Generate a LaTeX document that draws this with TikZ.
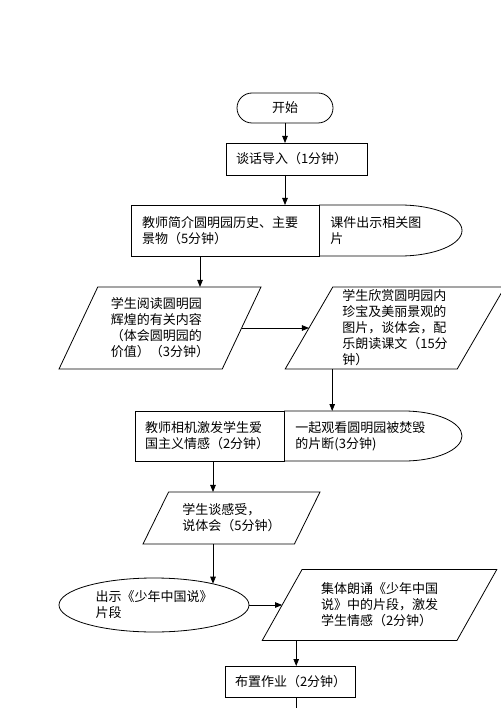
\documentclass[tikz,border=0pt]{standalone}
\usepackage{fontspec}
\setmainfont{Noto Sans CJK SC}
\usepackage{tikz}
\usetikzlibrary{positioning,arrows.meta,shapes.geometric}

\begin{document}
\begin{tikzpicture}[x=1pt,y=-1pt,line width=0.8pt,>={Triangle[length=7pt,width=5.5pt]},
  font=\fontsize{13}{16}\selectfont,
  term/.style={draw,rounded corners=15pt,minimum width=96pt,minimum height=30pt,outer sep=0pt},
  stepbox/.style={draw,align=left,inner xsep=10pt,text width=#1,outer sep=0pt},
  para/.style={draw,trapezium,trapezium stretches=true,trapezium left angle=#1,
    trapezium right angle={180-#1},align=left,inner sep=1pt,outer sep=0pt},
  note/.style={align=left,inner sep=0pt},
  oval/.style={draw,ellipse,align=left,outer sep=0pt}]
  \useasboundingbox (0,0) rectangle (500,708);
  % main column
  \node[term] (start) at (285,108) {开始};
  \node[stepbox=121pt,minimum height=32pt] (intro) at (296.5,159) {谈话导入（1分钟）};
  \node[stepbox=166pt,inner xsep=11pt,minimum height=51pt] (teach) at (225,230.5)
    {教师简介圆明园历史、主要\\景物（5分钟）};
  \node[note,right=11pt of teach] (slides) {课件出示相关图\\片};
  \draw (teach.north east) -- ++(81pt,0pt)
    arc[start angle=90,end angle=-90,x radius=62pt,y radius=25.5pt] -- (teach.south east);
  \node[para=63.4,minimum width=202pt,minimum height=82pt] (read) at (160,328)
    {学生阅读圆明园\\辉煌的有关内容\\（体会圆明园的\\价值）（3分钟）};
  \node[para=62.3,minimum width=220pt,minimum height=82pt] (enjoy) at (395,328)
    {学生欣赏圆明园内\\珍宝及美丽景观的\\图片，谈体会，配\\乐朗读课文（15分\\钟）};
  \node[stepbox=129pt,minimum height=50pt] (inspire) at (209.5,436)
    {教师相机激发学生爱\\国主义情感（2分钟）};
  \node[note,right=11pt of inspire] (video) {一起观看圆明园被焚毁\\的片断(3分钟)};
  \draw (inspire.north east) -- ++(120pt,0pt)
    arc[start angle=90,end angle=-90,x radius=58pt,y radius=25pt] -- (inspire.south east);
  \node[para=56.1,minimum width=177pt,minimum height=52pt] (talk) at (231.5,518)
    {学生谈感受，\\说体会（5分钟）};
  \node[oval,minimum width=190pt,minimum height=54pt] (show) at (154,605)
    {出示《少年中国说》\\片段};
  \node[para=56.5,minimum width=235pt,minimum height=71pt] (chorus) at (379.5,605)
    {集体朗诵《少年中国\\说》中的片段，激发\\学生情感（2分钟）};
  \node[stepbox=110pt,minimum height=31pt] (homework) at (290,681.5) {布置作业（2分钟）};
  \coordinate (more) at (296,715);
  % connectors
  \draw[->] (start) -- (start |- intro.north);
  \draw[->] (start |- intro.south) -- (start |- teach.north);
  \draw[->] ([xshift=-25pt]teach.south) -- ([xshift=-25pt]teach.south |- read.north);
  \draw[->] (read.right side) -- (enjoy.left side);
  \draw[->] ([xshift=47pt]enjoy.bottom left corner) -- ([xshift=47pt]enjoy.bottom left corner |- inspire.north);
  \draw[->] ([xshift=3.5pt]inspire.south) -- ([xshift=3.5pt]inspire.south |- talk.north);
  \draw[->] ([xshift=-18.5pt]talk.south) -- ([xshift=-18.5pt]talk.south |- show.20);
  \draw[->] (show.east) -- (show.east -| chorus.left side);
  \draw[->] ([xshift=34pt]chorus.bottom left corner) -- ([xshift=34pt]chorus.bottom left corner |- homework.north);
  \draw ([xshift=6pt]homework.south) -- (more);
\end{tikzpicture}
\end{document}
